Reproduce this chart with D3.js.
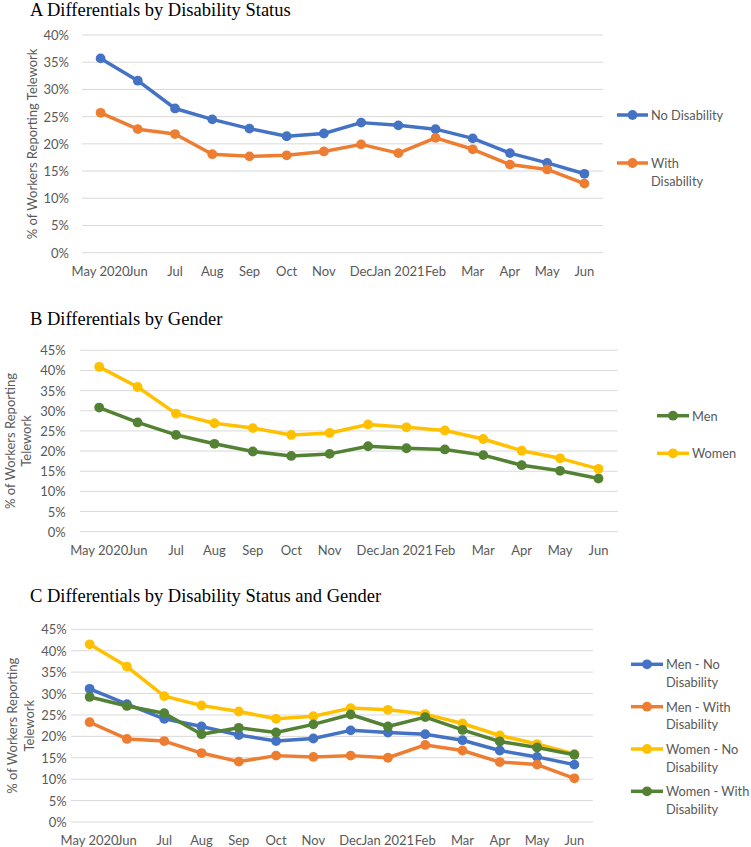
<!DOCTYPE html>
<html>
<head>
<meta charset="utf-8">
<script src="https://cdn.jsdelivr.net/npm/d3@7"></script>
<style>
  html, body { margin: 0; padding: 0; background: #fff; }
  svg { display: block; }
  .tick-label { font-family: Lato, "Open Sans", sans-serif; font-size: 13px; fill: #595959; }
  .axis-title { font-family: Lato, "Open Sans", sans-serif; font-size: 13px; fill: #595959; }
  .legend-label { font-family: Lato, "Open Sans", sans-serif; font-size: 12.8px; fill: #595959; }
  .panel-title { font-family: "Liberation Serif", "Times New Roman", serif; font-size: 18.5px; fill: #000; }
</style>
</head>
<body>
<svg id="chart" width="751" height="847"></svg>
<script>
// ---------------- DATA ----------------
const months = ["May 2020", "Jun", "Jul", "Aug", "Sep", "Oct", "Nov", "Dec", "Jan 2021", "Feb", "Mar", "Apr", "May", "Jun"];

// Panel A: by disability status (%)
const noDisability   = [35.7, 31.6, 26.5, 24.5, 22.8, 21.4, 21.9, 23.9, 23.4, 22.7, 21.0, 18.3, 16.5, 14.5];
const withDisability = [25.7, 22.7, 21.8, 18.1, 17.7, 17.9, 18.6, 19.9, 18.3, 21.1, 19.0, 16.2, 15.3, 12.7];

// Panel B: by gender (%)
const men   = [30.8, 27.1, 24.0, 21.8, 19.9, 18.8, 19.3, 21.2, 20.7, 20.4, 19.0, 16.5, 15.1, 13.2];
const women = [40.9, 35.9, 29.3, 26.9, 25.7, 24.0, 24.5, 26.6, 25.9, 25.1, 23.0, 20.1, 18.2, 15.6];

// Panel C: by disability status and gender (%)
const menNoDis     = [31.1, 27.5, 24.1, 22.3, 20.3, 18.9, 19.5, 21.4, 20.9, 20.5, 19.1, 16.7, 15.2, 13.4];
const menWithDis   = [23.3, 19.4, 18.9, 16.1, 14.1, 15.5, 15.2, 15.5, 15.0, 18.0, 16.7, 14.0, 13.4, 10.2];
const womenNoDis   = [41.5, 36.3, 29.4, 27.2, 25.8, 24.1, 24.7, 26.6, 26.2, 25.2, 23.0, 20.2, 18.2, 15.9];
const womenWithDis = [29.2, 27.1, 25.4, 20.5, 22.0, 20.9, 22.8, 25.1, 22.3, 24.5, 21.5, 18.8, 17.4, 15.7];

const ticksA = [0, 5, 10, 15, 20, 25, 30, 35, 40];
const ticksBC = [0, 5, 10, 15, 20, 25, 30, 35, 40, 45];

const colBlue = "#4472C4", colOrange = "#ED7D31", colYellow = "#FFC000", colGreen = "#548235";

// ---------------- DRAW ----------------
const svg = d3.select("#chart");
const idx = d3.range(months.length);

function drawPanel(cfg) {
  const g = svg.append("g");
  const x = d3.scaleBand().domain(idx).range([cfg.left, cfg.right]);
  const cx = i => x(i) + x.bandwidth() / 2;
  const y = d3.scaleLinear().domain([0, d3.max(cfg.ticks)]).range([cfg.bottom, cfg.top]);

  g.append("text").attr("class", "panel-title")
    .attr("x", 30).attr("y", cfg.titleY).text(cfg.title);

  g.selectAll(".grid").data(cfg.ticks).enter().append("line")
    .attr("x1", cfg.left).attr("x2", cfg.right)
    .attr("y1", d => y(d)).attr("y2", d => y(d))
    .attr("stroke", "#D9D9D9").attr("stroke-width", 1);

  g.selectAll(".ytl").data(cfg.ticks).enter().append("text")
    .attr("class", "tick-label")
    .attr("x", cfg.yLabelX).attr("y", d => y(d))
    .attr("text-anchor", "end").attr("dominant-baseline", "central")
    .text(d => d + "%");

  g.selectAll(".xtl").data(idx).enter().append("text")
    .attr("class", "tick-label")
    .attr("x", i => cx(i)).attr("y", cfg.bottom + 18)
    .attr("text-anchor", "middle").attr("dominant-baseline", "central")
    .text(i => months[i]);

  const cy = (cfg.top + cfg.bottom) / 2;
  cfg.yTitle.forEach((t, i) => {
    g.append("text").attr("class", "axis-title")
      .attr("transform", `translate(${cfg.yTitleX[i]},${cy}) rotate(-90)`)
      .attr("text-anchor", "middle").attr("dominant-baseline", "central")
      .text(t);
  });

  const line = d3.line().x((d, i) => cx(i)).y(d => y(d));

  cfg.series.forEach(s => {
    g.append("path").datum(s.values)
      .attr("d", line).attr("fill", "none")
      .attr("stroke", s.color).attr("stroke-width", 3.5)
      .attr("stroke-linejoin", "round").attr("stroke-linecap", "round");
    g.selectAll(null).data(s.values).enter().append("circle")
      .attr("cx", (d, i) => cx(i))
      .attr("cy", d => y(d)).attr("r", 4.9)
      .attr("fill", s.color);
  });

  cfg.series.forEach((s, i) => {
    const ly = cfg.legendY[i];
    g.append("line").attr("x1", cfg.legendX1).attr("x2", cfg.legendX2)
      .attr("y1", ly).attr("y2", ly)
      .attr("stroke", s.color).attr("stroke-width", 3.5);
    g.append("circle").attr("cx", (cfg.legendX1 + cfg.legendX2) / 2).attr("cy", ly)
      .attr("r", 4.9).attr("fill", s.color);
    s.label.forEach((t, j) => {
      g.append("text").attr("class", "legend-label")
        .attr("x", cfg.legendX2 + 3).attr("y", ly + j * 17.5)
        .attr("dominant-baseline", "central").text(t);
    });
  });
}

drawPanel({
  title: "A Differentials by Disability Status", titleY: 16,
  left: 82, right: 603, top: 35, bottom: 252.7, ticks: ticksA,
  yLabelX: 69, yTitle: ["% of Workers Reporting Telework"], yTitleX: [32],
  legendX1: 617, legendX2: 648, legendY: [115, 163],
  series: [
    { values: noDisability, color: colBlue, label: ["No Disability"] },
    { values: withDisability, color: colOrange, label: ["With", "Disability"] }
  ]
});

drawPanel({
  title: "B Differentials by Gender", titleY: 325,
  left: 80, right: 617.7, top: 350.3, bottom: 531.7, ticks: ticksBC,
  yLabelX: 65.7, yTitle: ["% of Workers Reporting", "Telework"], yTitleX: [9.5, 25.5],
  legendX1: 657, legendX2: 689, legendY: [415.7, 453.3],
  series: [
    { values: men, color: colGreen, label: ["Men"] },
    { values: women, color: colYellow, label: ["Women"] }
  ]
});

drawPanel({
  title: "C Differentials by Disability Status and Gender", titleY: 601.7,
  left: 71, right: 593, top: 629.3, bottom: 822, ticks: ticksBC,
  yLabelX: 66.7, yTitle: ["% of Workers Reporting", "Telework"], yTitleX: [12, 28.5],
  legendX1: 631, legendX2: 663, legendY: [664.3, 706.7, 749, 791.3],
  series: [
    { values: menNoDis, color: colBlue, label: ["Men - No", "Disability"] },
    { values: menWithDis, color: colOrange, label: ["Men - With", "Disability"] },
    { values: womenNoDis, color: colYellow, label: ["Women - No", "Disability"] },
    { values: womenWithDis, color: colGreen, label: ["Women - With", "Disability"] }
  ]
});
</script>
</body>
</html>
